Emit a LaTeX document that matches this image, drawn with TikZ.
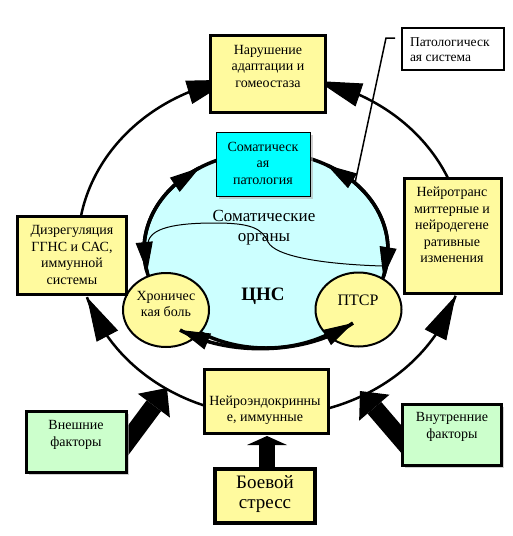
\documentclass[tikz,border=0pt]{standalone}
\usepackage{fontspec}
\setmainfont{Liberation Serif}
\usetikzlibrary{arrows.meta,shapes.geometric,shadows}
\definecolor{ly}{RGB}{255,250,158}
\definecolor{lc}{RGB}{204,255,255}
\definecolor{cy}{RGB}{0,255,255}
\definecolor{lg}{RGB}{204,255,204}
\begin{document}
\begin{tikzpicture}[x=1pt,y=-1pt,
  every node/.style={inner sep=0pt, outer sep=0pt},
  boxst/.style={draw=black, line width=3.5pt, rectangle},
  ybox/.style={boxst, fill=ly},
  gbox/.style={boxst, fill=lg, drop shadow={shadow xshift=2pt, shadow yshift=-2pt, fill=black!30, opacity=0.6}},
  txt/.style={font=\fontsize{14}{16.5}\selectfont, align=center, text=black},
  outerline/.style={draw=black, line width=2.5pt},
  outertip/.style={draw=black, line width=1pt, -{Triangle[length=44pt,width=24pt]}},
  innerline/.style={draw=black, line width=3.5pt},
  innertip/.style={draw=black, line width=1pt, -{Triangle[length=30pt,width=17pt]}},
  blockarrow/.style={draw=black, line width=18pt, -{Triangle[length=22pt,width=40pt,line width=0pt]}},
  circ/.style={ellipse, draw=black, line width=2pt, fill=ly},
]
\useasboundingbox (0,0) rectangle (512,536);
\fill[white] (0,0) rectangle (512,536);

\coordinate (O) at (271,246);
\coordinate (C) at (266,250);

% outer cycle
\draw[outerline] (O) ++(180:193 and 170) arc[start angle=180, end angle=258, x radius=193, y radius=170];
\draw[outerline] (O) ++(360:193 and 170) arc[start angle=360, end angle=284, x radius=193, y radius=170];
\draw[outerline] (O) ++(90:193 and 170) arc[start angle=90, end angle=162.5, x radius=193, y radius=170];
\draw[outerline] (O) ++(90:193 and 170) arc[start angle=90, end angle=17, x radius=193, y radius=170];
\path (O) ++(244.5:193 and 170) coordinate (otlb) (O) ++(258:193 and 170) coordinate (otlt);
\path (O) ++(297.5:193 and 170) coordinate (otrb) (O) ++(284:193 and 170) coordinate (otrt);
\path (O) ++(148:193 and 170) coordinate (oblb) (O) ++(162.5:193 and 170) coordinate (oblt);
\path (O) ++(31.5:193 and 170) coordinate (obrb) (O) ++(17:193 and 170) coordinate (obrt);
\draw[outertip] (otlb) -- (otlt);
\draw[outertip] (otrb) -- (otrt);
\draw[outertip] (oblb) -- (oblt);
\draw[outertip] (obrb) -- (obrt);

% CNS ellipse
\draw[innerline, fill=lc] (C) ellipse[x radius=122, y radius=98];
\coordinate (cns) at (C);

% thin curve
\coordinate (s1) at (148,243);
\coordinate (s2) at (382,266);
\draw[line width=1pt] (s1) .. controls (150,228) and (175,223) .. (215,223) .. controls (250,223) and (262,228) .. (268,242) .. controls (275,256) and (320,264) .. (s2);

% circles
\node[circ, minimum width=86, minimum height=74] (chron) at (166,310) {};
\node[circ, minimum width=86, minimum height=74] (ptsr) at (358.5,309.5) {};

% inner arrows
\draw[innerline] (C) ++(237:122 and 98) arc[start angle=237, end angle=167, x radius=122, y radius=98];
\draw[innerline] (C) ++(300:122 and 98) arc[start angle=300, end angle=376, x radius=122, y radius=98];
\path (C) ++(222:122 and 98) coordinate (iulb) (C) ++(237:122 and 98) coordinate (iult);
\path (C) ++(184:122 and 98) coordinate (idlb) (C) ++(167:122 and 98) coordinate (idlt);
\path (C) ++(315:122 and 98) coordinate (iurb) (C) ++(300:122 and 98) coordinate (iurt);
\path (C) ++(359:122 and 98) coordinate (idrb) (C) ++(16:122 and 98) coordinate (idrt);
\draw[innertip] (iulb) -- (iult);
\draw[innertip] (idlb) -- (idlt);
\draw[innertip] (iurb) -- (iurt);
\draw[innertip] (idrb) -- (idrt);
\coordinate (b1) at (180,330);
\coordinate (b2) at (353,323);
\coordinate (b1b) at (209,342);
\coordinate (b2b) at (326,338);
\draw[innerline] (b1) .. controls (226,356) and (306,356) .. (b2);
\draw[innertip] (b1b) -- (b1);
\draw[innertip] (b2b) -- (b2);

% somatic pathology box
\node[draw=black, line width=1.2pt, fill=cy, minimum width=94, minimum height=64,
  drop shadow={shadow xshift=2pt, shadow yshift=-2pt, fill=black!30, opacity=0.6}] (soma) at (263.5,164.5) {};

% callout
\node[draw=black, line width=2pt, fill=white, minimum width=102, minimum height=42] (pbox) at (453,49) {};
\coordinate (c1) at (395,38);
\coordinate (c2) at (386,38);
\coordinate (c3) at (355,183);
\draw[line width=1.5pt] (c1) -- (c2) -- (c3);

% block arrows
\coordinate (ea) at (112,462);
\coordinate (et) at (167,388);
\coordinate (ia) at (414,454);
\coordinate (it) at (360,391);
\coordinate (ca) at (267,472);
\coordinate (ct) at (267,436);
\draw[blockarrow] (ea) -- (et);
\draw[blockarrow] (ia) -- (it);
\draw[line width=16pt, -{Triangle[length=9pt,width=40pt,line width=0pt]}] (ca) -- (ct);

% boxes
\node[ybox, minimum width=115, minimum height=77] (adapt) at (268,74) {};
\node[ybox, minimum width=109, minimum height=78] (dysreg) at (72,255.5) {};
\node[ybox, minimum width=97, minimum height=115] (neuro) at (453,236) {};
\node[ybox, minimum width=124, minimum height=64] (endo) at (266.5,401.5) {};
\node[ybox, line width=4pt, minimum width=100, minimum height=54] (combat) at (265,496) {};
\node[gbox, minimum width=100, minimum height=61] (ext) at (76.5,442) {};
\node[gbox, minimum width=99, minimum height=61] (int) at (452,435) {};

% texts
\node[txt] (adaptT) at (268,66) {Нарушение\\адаптации и\\гомеостаза};
\node[txt, font=\fontsize{13.5}{15}\selectfont, align=left, anchor=west] (pboxT) at (410,50) {Патологическ\\ая система};
\node[txt] (somaT) at (263,163) {Соматическ\\ая\\патология};
\node[txt, font=\fontsize{17}{20}\selectfont] (organs) at (264,228) {Соматические\\органы};
\node[txt, font=\fontsize{19}{20}\selectfont\bfseries] (cnsT) at (263,296) {ЦНС};
\node[txt] (chronT) at (166,304) {Хроничес\\кая боль};
\node[txt, font=\fontsize{16}{18}\selectfont] (ptsrT) at (358,300) {ПТСР};
\node[txt] (dysregT) at (72,255) {Дизрегуляция\\ГГНС и САС,\\иммунной\\системы};
\node[txt] (neuroT) at (452,225) {Нейротранс\\миттерные и\\нейродегене\\ративные\\изменения};
\node[txt] (endoT) at (265,410) {Нейроэндокринны\\е, иммунные};
\node[txt, font=\fontsize{19}{20}\selectfont] (combatT) at (265,494) {Боевой\\стресс};
\node[txt] (extT) at (76,435) {Внешние\\факторы};
\node[txt] (intT) at (452,427) {Внутренние\\факторы};
\end{tikzpicture}
\end{document}
